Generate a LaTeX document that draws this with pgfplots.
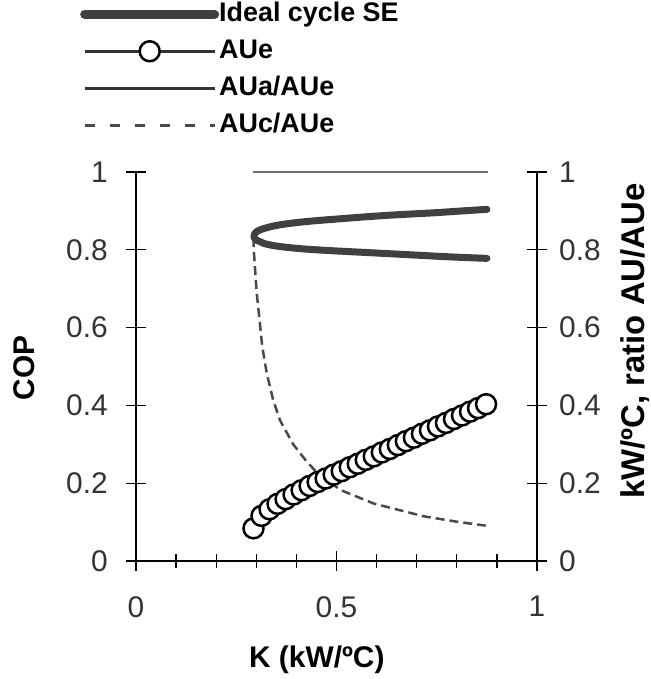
\documentclass[border=0pt]{standalone}
\usepackage{fontspec}
\setmainfont{Liberation Sans}
\usepackage{pgfplots}
\pgfplotsset{compat=1.18}

\definecolor{idealgray}{HTML}{404040}
\definecolor{ratiogray}{HTML}{6E6E6E}
\definecolor{dashgray}{HTML}{4A4A4A}
\definecolor{auegray}{HTML}{333333}

\pgfplotsset{
  chartframe/.style={
    scale only axis, width=401bp, height=389bp,
    at={(0,0)}, anchor=south west,
    xmin=0, xmax=1, ymin=0, ymax=1,
    ytick={0,0.2,0.4,0.6,0.8,1},
    tick align=center,
    major tick length=20bp, minor tick length=14bp,
    every tick/.append style={black, line width=1.3bp},
    axis line style={black, line width=1.5bp},
    tick label style={font=\fontsize{30}{36}\selectfont, text=black!80},
    /pgf/number format/assume math mode=true,
    clip=false,
  }
}

\begin{document}
\begin{tikzpicture}
\begin{axis}[chartframe,
  axis x line*=bottom, axis y line*=left,
  xtick={0,0.5,1},
  minor xtick={0.1,0.2,0.3,0.4,0.6,0.7,0.8,0.9},
  xlabel={K (kW/ºC)}, ylabel={COP},
  every axis x label/.style={at={(axis description cs:0.451,-0.275)},
    anchor=base, font=\bfseries\fontsize{30}{36}\selectfont},
  every axis y label/.style={at={(axis description cs:-0.252,0.497)},
    anchor=base, rotate=90, font=\bfseries\fontsize{30}{36}\selectfont},
  xticklabel style={anchor=north, inner sep=0pt, yshift=-25bp},
  yticklabel style={anchor=east, inner sep=0pt, xshift=-18bp},
  legend image code/.code={
    \draw[mark repeat=2, mark phase=2, #1]
      plot coordinates {(0bp,0bp) (65bp,0bp) (130bp,0bp)};},
  legend style={at={(axis description cs:-0.1397,1.442)}, anchor=north west,
    draw=none, fill=none, inner sep=0pt, row sep=9bp,
    font=\bfseries\fontsize{27}{30}\selectfont,
    nodes={inner sep=0pt, text height=21bp, text depth=7bp}},
  legend cell align=left,
]
% legend entries
\addlegendimage{idealgray, line width=9bp, line cap=round}
\addlegendentry{Ideal cycle SE}
\addlegendimage{auegray, line width=2.5bp, mark=*, mark size=10bp,
  mark options={fill=white, draw=black, line width=2.5bp}}
\addlegendentry{AUe}
\addlegendimage{auegray, line width=2.5bp}
\addlegendentry{AUa/AUe}
\addlegendimage{dashgray, line width=3.5bp, dash pattern=on 10bp off 15bp}
\addlegendentry{AUc/AUe}

% AUa/AUe ratio
\addplot[forget plot, ratiogray, line width=2.5bp] coordinates {
  (0.293,1.000) (0.877,1.000)};

% AUc/AUe ratio
\addplot[forget plot, dashgray, line width=2.5bp, dash pattern=on 9bp off 5bp]
  table {
x y
0.293 0.830
0.294 0.795
0.301 0.690
0.308 0.620
0.315 0.550
0.326 0.483
0.342 0.414
0.359 0.362
0.392 0.300
0.426 0.255
0.451 0.228
0.509 0.183
0.592 0.148
0.717 0.115
0.800 0.101
0.872 0.091
};

% Ideal cycle SE (two COP branches)
\addplot[forget plot, idealgray, line width=7bp, line cap=round,
  line join=round, smooth, tension=0.4] table {
x y
0.875 0.904
0.800 0.899
0.741 0.895
0.650 0.890
0.575 0.885
0.500 0.879
0.450 0.875
0.409 0.871
0.370 0.866
0.342 0.861
0.320 0.855
0.309 0.851
0.300 0.846
0.296 0.841
0.294 0.835
0.296 0.829
0.300 0.825
0.309 0.821
0.320 0.816
0.342 0.811
0.370 0.807
0.409 0.803
0.450 0.800
0.500 0.797
0.575 0.793
0.650 0.789
0.741 0.784
0.800 0.781
0.875 0.778
};

% AUe
\addplot[forget plot, auegray, line width=2bp, mark=*, mark size=10bp,
  mark options={fill=white, draw=black, line width=2.5bp}] table {
x y
0.293 0.084
0.313 0.116
0.333 0.133
0.353 0.147
0.373 0.159
0.393 0.171
0.413 0.182
0.433 0.193
0.453 0.203
0.473 0.212
0.493 0.222
0.513 0.231
0.533 0.241
0.553 0.250
0.573 0.260
0.593 0.269
0.613 0.279
0.633 0.288
0.653 0.298
0.673 0.308
0.693 0.317
0.713 0.327
0.733 0.336
0.753 0.346
0.773 0.355
0.793 0.365
0.813 0.374
0.833 0.384
0.853 0.393
0.873 0.403
};
\end{axis}

\begin{axis}[chartframe,
  axis x line=none, axis y line*=right,
  ylabel={kW/ºC, ratio AU/AUe},
  every axis y label/.style={at={(axis description cs:1.267,0.5656)},
    anchor=base, rotate=90, font=\bfseries\fontsize{33}{38}\selectfont},
  yticklabel style={anchor=west, inner sep=0pt, xshift=12bp},
]
\end{axis}

\pgfresetboundingbox
\path[use as bounding box] (-136bp,-118bp) rectangle (515bp,561bp);
\end{tikzpicture}
\end{document}
